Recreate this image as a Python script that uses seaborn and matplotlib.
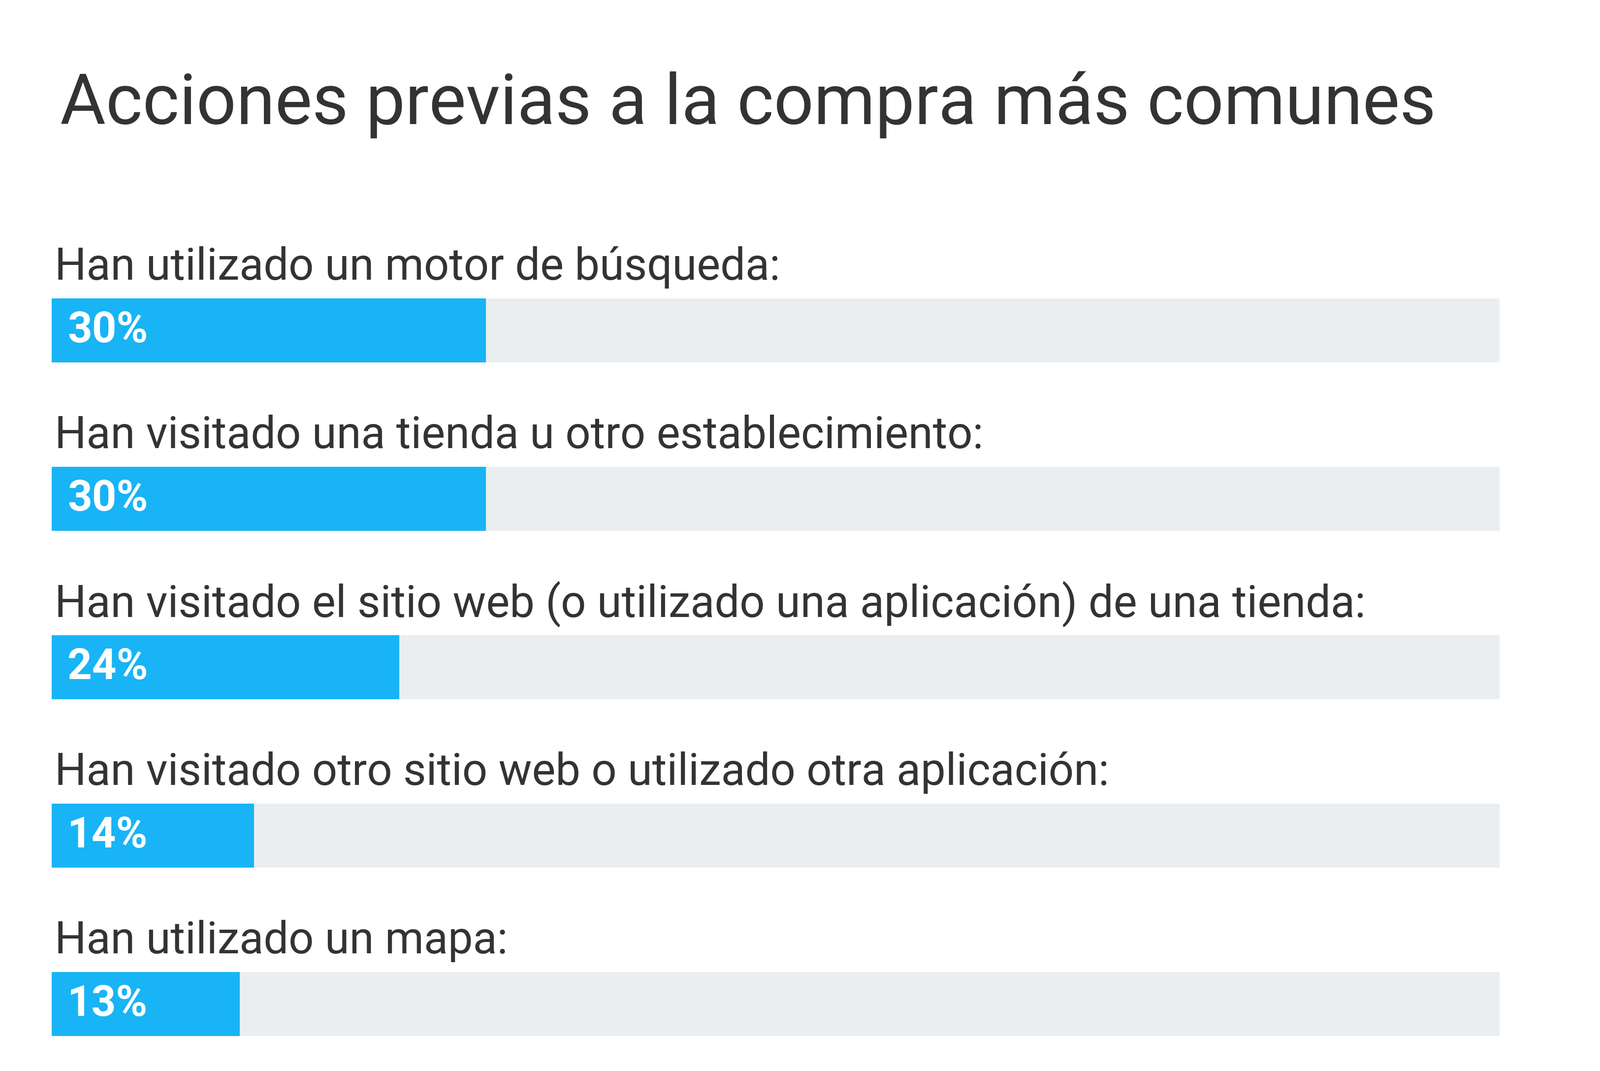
import matplotlib
matplotlib.use("Agg")
import matplotlib.pyplot as plt
import seaborn as sns
import pandas as pd

categories = [
    "Han utilizado un motor de búsqueda:",
    "Han visitado una tienda u otro establecimiento:",
    "Han visitado el sitio web (o utilizado una aplicación) de una tienda:",
    "Han visitado otro sitio web o utilizado otra aplicación:",
    "Han utilizado un mapa:",
]
values = [30, 30, 24, 14, 13]
value_labels = ["30%", "30%", "24%", "14%", "13%"]
track_max = [100, 100, 100, 100, 100]

df = pd.DataFrame({"cat": categories, "val": values, "track": track_max})

fig = plt.figure(figsize=(13, 8.7), dpi=250)
fig.patch.set_facecolor("white")
ax = fig.add_axes([0.0322, 0.0155, 0.905, 0.833 - 0.0155])

sns.barplot(data=df, y="cat", x="track", orient="h", color="#EBEEF1",
            width=0.38, ax=ax, saturation=1, order=categories)
sns.barplot(data=df, y="cat", x="val", orient="h", color="#18B4F5",
            width=0.38, ax=ax, saturation=1, order=categories)

ax.set_xlim(0, 100)
ax.set_ylim(4.3, -0.9)
ax.axis("off")

for i, (c, lab) in enumerate(zip(categories, value_labels)):
    ax.text(0.2, i - 0.30, c, fontsize=26, color="#333333", va="baseline",
            ha="left", family="Roboto", fontweight="normal")
    ax.text(1.1, i, lab, fontsize=25, color="white", va="center",
            ha="left", family="Roboto", fontweight="bold")

fig.text(58/1550, 1 - 120/1037, "Acciones previas a la compra más comunes",
         fontsize=41, color="#333333", family="Roboto", fontweight="normal",
         va="baseline", ha="left")

fig.savefig("out.png", dpi=250, facecolor="white")
